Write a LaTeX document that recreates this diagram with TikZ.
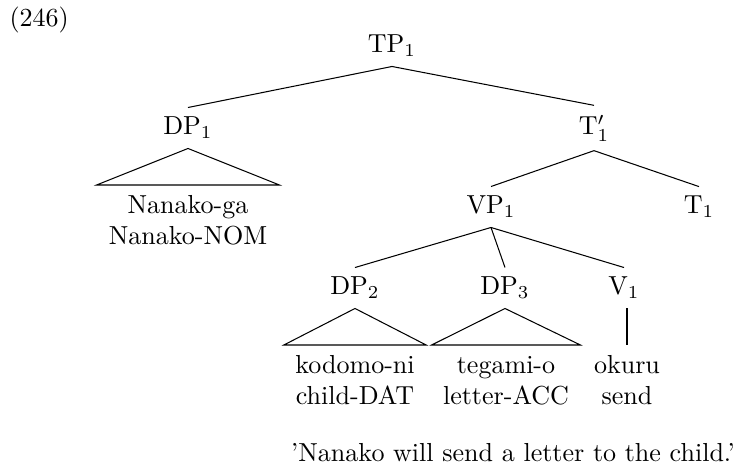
\documentclass[tikz,border=0pt]{standalone}
\begin{document}
\begin{tikzpicture}[x=0.384pt,y=-0.384pt,
  cat/.style={inner xsep=2pt,inner ysep=3.5pt},
  leaf/.style={anchor=north,align=center,inner xsep=4.2pt,inner ysep=2.3pt},
  edge/.style={line width=0.4pt}]
\useasboundingbox (0,0) rectangle (736,468);
\node[anchor=base west,inner sep=0] (ex) at (9,27) {(246)};
\node[cat] (TP) at (392,46) {TP\(_1\)};
\node[cat] (DP1) at (188,128) {DP\(_1\)};
\node[cat] (Tb) at (594,128) {T\(_1'\)};
\node[leaf,inner xsep=4.5pt] (L1) at (188,185) {\strut Nanako-ga\\\strut Nanako-NOM};
\node[cat] (VP) at (491,207) {VP\(_1\)};
\node[cat] (T1) at (699,207) {T\(_1\)};
\node[cat] (DP2) at (355,288) {DP\(_2\)};
\node[cat] (DP3) at (505,288) {DP\(_3\)};
\node[cat] (V1) at (624,288) {V\(_1\)};
\node[leaf] (L2) at (355,345) {\strut kodomo-ni\\\strut child-DAT};
\node[leaf] (L3) at (506,345) {\strut tegami-o\\\strut letter-ACC};
\node[leaf] (L4) at (627,345) {\strut okuru\\\strut send};
\node[anchor=base,inner sep=0] (tr) at (513,461) {'Nanako will send a letter to the child.'};
\draw[edge] (TP.south) -- (DP1.north);
\draw[edge] (TP.south) -- (Tb.north);
\draw[edge] (Tb.south) -- (VP.north);
\draw[edge] (Tb.south) -- (T1.north);
\draw[edge] (VP.south) -- (DP2.north);
\draw[edge] (VP.south) -- (DP3.north);
\draw[edge] (VP.south) -- (V1.north);
\draw[edge] (DP1.south) -- (L1.north west) -- (L1.north east) -- cycle;
\draw[edge] (DP2.south) -- (L2.north west) -- (L2.north east) -- cycle;
\draw[edge] (DP3.south) -- (L3.north west) -- (L3.north east) -- cycle;
\draw[edge] (L4.north |- V1.south) -- (L4.north);
\end{tikzpicture}
\end{document}
